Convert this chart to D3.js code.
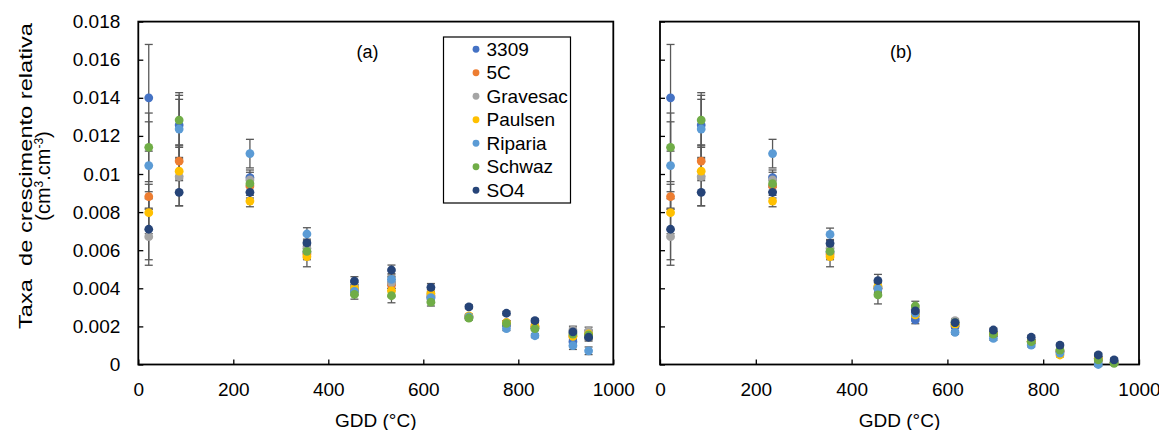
<!DOCTYPE html>
<html><head><meta charset="utf-8">
<script src="https://cdnjs.cloudflare.com/ajax/libs/d3/7.8.5/d3.min.js"></script>
<style>
body{margin:0;background:#fff;}
svg{display:block;font-family:"Liberation Sans",Arial,sans-serif;}
</style></head>
<body><svg id="chart" width="1159" height="430"></svg>
<script>
// ---------- data ----------
const gdd = [22, 86, 235, 355, 455, 533, 616, 696, 775, 835, 915, 948];
const cultivars = ["3309", "5C", "Gravesac", "Paulsen", "Riparia", "Schwaz", "SO4"];
const seriesColors = ["#4472C4", "#ED7D31", "#A5A5A5", "#FFC000", "#5B9BD5", "#70AD47", "#264478"];
const xTicks = [0, 200, 400, 600, 800, 1000];
const yTicks = [0, 0.002, 0.004, 0.006, 0.008, 0.01, 0.012, 0.014, 0.016, 0.018];

// panel (a)
const a3309     = [0.0140, 0.01257, 0.00981, 0.0059, 0.0040, 0.0043, 0.0035, 0.0025, 0.0021, 0.0019, 0.0012, 0.0015];
const a5C       = [0.00881, 0.01068, 0.00937, 0.0058, 0.0039, 0.00417, 0.0036, 0.0025, 0.0022, 0.0020, 0.0015, 0.0016];
const aGravesac = [0.00671, 0.00986, 0.00969, 0.0061, 0.0041, 0.0043, 0.0036, 0.0025, 0.0022, 0.0020, 0.00181, 0.00176];
const aPaulsen  = [0.00797, 0.01015, 0.00858, 0.00566, 0.0040, 0.00387, 0.00374, 0.00255, 0.0022, 0.0020, 0.00148, 0.0016];
const aRiparia  = [0.01044, 0.01236, 0.01107, 0.00685, 0.00384, 0.00447, 0.00351, 0.0025, 0.00188, 0.00151, 0.00099, 0.00072];
const aSchwaz   = [0.0114, 0.01283, 0.00949, 0.00594, 0.00368, 0.00361, 0.00327, 0.00243, 0.00216, 0.00188, 0.0016, 0.00155];
const aSO4      = [0.0071, 0.00904, 0.00904, 0.00638, 0.00438, 0.00496, 0.00405, 0.00303, 0.00269, 0.0023, 0.00171, 0.00143];

const aErr3309     = [0.0028, 0.0017, 0.0004, 0.0003, 0.0002, 0.0003, 0.0002, 0.0001, 0.0001, 0.0001, 0.0002, 0.0002];
const aErr5C       = [0.00065, 0.0008, 0.0003, 0.0003, 0.0002, 0.0003, 0.0002, 0.0001, 0.0001, 0.0001, 0.0002, 0.0002];
const aErrGravesac = [0.0015, 0.00154, 0.0004, 0.0003, 0.0002, 0.0003, 0.0002, 0.0001, 0.0001, 0.0001, 0.0002, 0.0002];
const aErrPaulsen  = [0.0011, 0.0005, 0.0003, 0.00053, 0.0002, 0.0003, 0.0002, 0.0001, 0.0001, 0.0001, 0.0002, 0.0002];
const aErrRiparia  = [0.0023, 0.00156, 0.00075, 0.00033, 0.0002, 0.0003, 0.0002, 0.0001, 0.0001, 0.0001, 0.0002, 0.0002];
const aErrSchwaz   = [0.0018, 0.0013, 0.0004, 0.0003, 0.00025, 0.00037, 0.0002, 0.0001, 0.0001, 0.0001, 0.0002, 0.0002];
const aErrSO4      = [0.0016, 0.0007, 0.0003, 0.0002, 0.00023, 0.00026, 0.0002, 0.0001, 0.0001, 0.0001, 0.0002, 0.0002];

// panel (b)
const b3309     = [0.0140, 0.01257, 0.00981, 0.0059, 0.0040, 0.00234, 0.0020, 0.0016, 0.0012, 0.0007, 0.0003, 0.0001];
const b5C       = [0.00881, 0.01068, 0.00937, 0.0058, 0.0040, 0.0027, 0.0021, 0.0016, 0.0012, 0.0007, 0.0003, 0.0001];
const bGravesac = [0.00671, 0.00986, 0.00969, 0.0061, 0.0041, 0.0029, 0.0023, 0.0016, 0.0012, 0.0007, 0.0003, 0.0001];
const bPaulsen  = [0.00797, 0.01015, 0.00858, 0.00566, 0.0041, 0.0026, 0.0021, 0.0016, 0.0012, 0.0005, 0.0003, 0.0001];
const bRiparia  = [0.01044, 0.01236, 0.01107, 0.00683, 0.00398, 0.0027, 0.00169, 0.00137, 0.00102, 0.0006, 0.0, 0.0001];
const bSchwaz   = [0.0114, 0.01283, 0.00949, 0.00594, 0.00365, 0.00307, 0.0022, 0.0016, 0.0012, 0.00076, 0.00024, 0.00006];
const bSO4      = [0.0071, 0.00904, 0.00904, 0.00636, 0.0044, 0.00281, 0.0022, 0.00181, 0.00143, 0.00102, 0.0005, 0.00024];

const bErr3309     = [0.0028, 0.0017, 0.0004, 0.0003, 0.0003, 0.0002, 0.0001, 0.0001, 0.0001, 0.0001, 0.0001, 0.0001];
const bErr5C       = [0.00065, 0.0008, 0.0003, 0.0003, 0.0003, 0.0002, 0.0001, 0.0001, 0.0001, 0.0001, 0.0001, 0.0001];
const bErrGravesac = [0.0015, 0.00154, 0.0004, 0.0003, 0.0003, 0.0002, 0.0001, 0.0001, 0.0001, 0.0001, 0.0001, 0.0001];
const bErrPaulsen  = [0.0011, 0.0005, 0.0003, 0.00053, 0.0003, 0.0002, 0.0001, 0.0001, 0.0001, 0.0001, 0.0001, 0.0001];
const bErrRiparia  = [0.0023, 0.00156, 0.00075, 0.00033, 0.0003, 0.0002, 0.0001, 0.0001, 0.0001, 0.0001, 0.0001, 0.0001];
const bErrSchwaz   = [0.0018, 0.0013, 0.0004, 0.0003, 0.00047, 0.00025, 0.0001, 0.0001, 0.0001, 0.0001, 0.0001, 0.0001];
const bErrSO4      = [0.0016, 0.0007, 0.0003, 0.0002, 0.00033, 0.0002, 0.0001, 0.0001, 0.0001, 0.0001, 0.0001, 0.0001];

const panelA = [a3309, a5C, aGravesac, aPaulsen, aRiparia, aSchwaz, aSO4];
const panelAErr = [aErr3309, aErr5C, aErrGravesac, aErrPaulsen, aErrRiparia, aErrSchwaz, aErrSO4];
const panelB = [b3309, b5C, bGravesac, bPaulsen, bRiparia, bSchwaz, bSO4];
const panelBErr = [bErr3309, bErr5C, bErrGravesac, bErrPaulsen, bErrRiparia, bErrSchwaz, bErrSO4];

// ---------- drawing ----------
const svg = d3.select("#chart");
const FS = 19;
const yTop = 21.6, yBot = 364.5;
const fmt = d => d === 0 ? "0" : String(+d.toFixed(3));

function drawPanel(x0, x1, vals, errs, showYLabels) {
  const x = d3.scaleLinear().domain([0, 1000]).range([x0, x1]);
  const y = d3.scaleLinear().domain([0, 0.018]).range([yBot, yTop]);
  const g = svg.append("g");

  const yAxis = d3.axisLeft(y).tickValues(yTicks).tickSizeInner(-5).tickSizeOuter(0)
    .tickPadding(18).tickFormat(showYLabels ? fmt : () => "");
  const ya = g.append("g").attr("transform", `translate(${x0},0)`).call(yAxis);
  ya.select(".domain").remove();
  ya.selectAll("line").attr("stroke", "#000").attr("stroke-width", 1.3);
  ya.selectAll("text").attr("font-size", FS).attr("fill", "#000").attr("font-family", "Liberation Sans, Arial, sans-serif");

  const xAxis = d3.axisBottom(x).tickValues(xTicks).tickSizeInner(-5).tickSizeOuter(0)
    .tickPadding(18).tickFormat(d3.format("d"));
  const xa = g.append("g").attr("transform", `translate(0,${yBot})`).call(xAxis);
  xa.select(".domain").remove();
  xa.selectAll("line").attr("stroke", "#000").attr("stroke-width", 1.3);
  xa.selectAll("text").attr("font-size", FS).attr("fill", "#000").attr("font-family", "Liberation Sans, Arial, sans-serif");

  g.append("rect").attr("x", x0).attr("y", yTop).attr("width", x1 - x0).attr("height", yBot - yTop)
    .attr("fill", "none").attr("stroke", "#000").attr("stroke-width", 1.8);

  // error bars
  const eb = g.append("g").attr("stroke", "#595959").attr("stroke-width", 1.3);
  vals.forEach((s, si) => {
    s.forEach((v, i) => {
      const e = errs[si][i];
      const cx = x(gdd[i]);
      eb.append("line").attr("x1", cx).attr("x2", cx).attr("y1", y(v - e)).attr("y2", y(v + e));
      eb.append("line").attr("x1", cx - 4).attr("x2", cx + 4).attr("y1", y(v - e)).attr("y2", y(v - e));
      eb.append("line").attr("x1", cx - 4).attr("x2", cx + 4).attr("y1", y(v + e)).attr("y2", y(v + e));
    });
  });

  // markers
  vals.forEach((s, si) => {
    g.append("g").selectAll("circle").data(s).join("circle")
      .attr("cx", (d, i) => x(gdd[i])).attr("cy", d => y(d)).attr("r", 4.4)
      .attr("fill", seriesColors[si]);
  });

  g.append("text").attr("x", (x0 + x1) / 2).attr("y", 420).attr("text-anchor", "middle")
    .attr("dominant-baseline", "central").attr("font-size", FS).text("GDD (°C)");
  return { x, y };
}

drawPanel(138.3, 613.3, panelA, panelAErr, true);
drawPanel(660, 1139, panelB, panelBErr, false);

svg.append("text").attr("x", 367.5).attr("y", 52).attr("text-anchor", "middle")
  .attr("dominant-baseline", "central").attr("font-size", FS - 1).text("(a)");
svg.append("text").attr("x", 901).attr("y", 52).attr("text-anchor", "middle")
  .attr("dominant-baseline", "central").attr("font-size", FS - 1).text("(b)");

// y label
const yl = svg.append("g").attr("transform", "translate(0,176) rotate(-90)");
yl.append("text").attr("x", 0).attr("y", 25).attr("text-anchor", "middle")
  .attr("dominant-baseline", "central").attr("font-size", FS).attr("xml:space", "preserve")
  .attr("textLength", 306).attr("lengthAdjust", "spacingAndGlyphs")
  .text("Taxa  de crescimento relativa");
const l2 = yl.append("text").attr("x", 0).attr("y", 43).attr("text-anchor", "middle")
  .attr("font-size", 20).attr("dy", "0.35em");
l2.append("tspan").text("(cm");
l2.append("tspan").attr("font-size", 12).attr("dy", -7).text("3");
l2.append("tspan").attr("dy", 7).text(".cm");
l2.append("tspan").attr("font-size", 12).attr("dy", -7).text("-3");
l2.append("tspan").attr("dy", 7).text(")");

// legend
const lg = svg.append("g");
lg.append("rect").attr("x", 443.5).attr("y", 37).attr("width", 127).attr("height", 166)
  .attr("fill", "#fff").attr("stroke", "#000").attr("stroke-width", 1.2);
const legY = d3.scaleBand().domain(cultivars).range([37.5, 202]);
cultivars.forEach((c, i) => {
  const cy = legY(c) + legY.bandwidth() / 2;
  lg.append("circle").attr("cx", 476).attr("cy", cy).attr("r", 3.4).attr("fill", seriesColors[i]);
  lg.append("text").attr("x", 486.5).attr("y", cy).attr("dominant-baseline", "central")
    .attr("font-size", FS).text(c);
});
</script></body></html>
